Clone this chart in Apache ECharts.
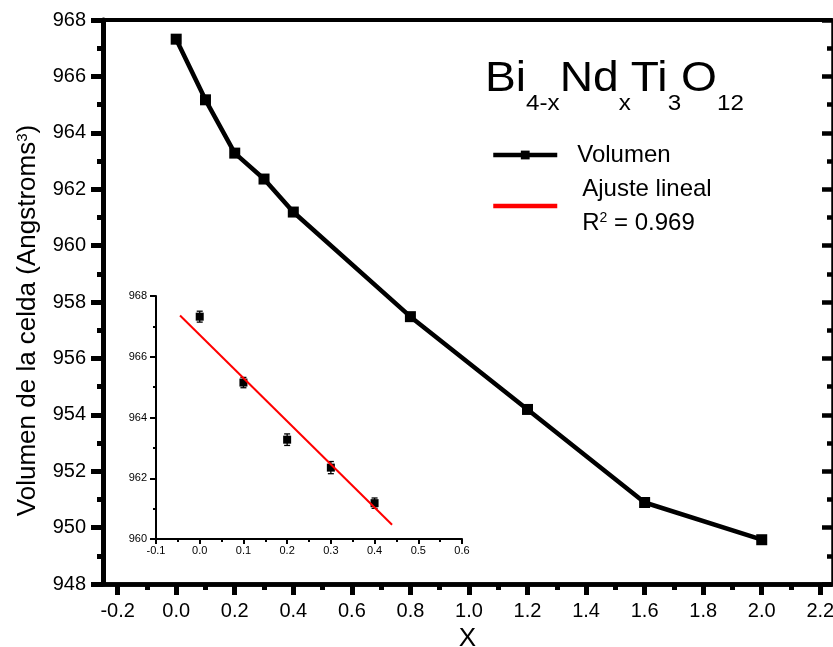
<!DOCTYPE html>
<html>
<head>
<meta charset="utf-8">
<script src="https://cdn.jsdelivr.net/npm/echarts@6/dist/echarts.min.js"></script>
<style>
html, body { margin: 0; padding: 0; background: #fff; }
#chart { width: 833px; height: 647px; }
</style>
</head>
<body>
<div id="chart"></div>
<script>
// datos principales: volumen de la celda contra x
var xVals = [0.0, 0.1, 0.2, 0.3, 0.4, 0.8, 1.2, 1.6, 2.0];
var volumen = [967.32, 965.17, 963.28, 962.36, 961.19, 957.48, 954.19, 950.89, 949.57];

// recuadro: primeros puntos con barras de error
var insetX = [0.0, 0.1, 0.2, 0.3, 0.4];
var insetY = [967.32, 965.15, 963.27, 962.35, 961.18];
var insetErr = [0.18, 0.17, 0.19, 0.2, 0.17];

// recta del ajuste lineal (extremos)
var fitX = [-0.045, 0.44];
var fitY = [967.36, 960.47];

// marcas del eje x principal
var xMajorTicks = [-0.2, 0.0, 0.2, 0.4, 0.6, 0.8, 1.0, 1.2, 1.4, 1.6, 1.8, 2.0, 2.2];
var xMinorTicks = [-0.1, 0.1, 0.3, 0.5, 0.7, 0.9, 1.1, 1.3, 1.5, 1.7, 1.9, 2.1];

var FONT = 'Arial, "Liberation Sans", sans-serif';

function pairs(xs, ys) {
	var out = [];
	for (var i = 0; i < xs.length; i++) {
		out.push([xs[i], ys[i]]);
	}
	return out;
}

var errData = [];
for (var i = 0; i < insetX.length; i++) {
	errData.push([insetX[i], insetY[i], insetErr[i]]);
}

function tick(w) {
	return { color: '#000', width: w };
}

var chart = echarts.init(document.getElementById('chart'));

var option = {
	animation: false,
	backgroundColor: '#fff',
	textStyle: { fontFamily: FONT, color: '#000' },
	grid: [
		{ left: 103, top: 20, right: 1, bottom: 63, containLabel: false, outerBoundsMode: 'none' },
		{ left: 156, top: 296, width: 306, height: 243, containLabel: false, outerBoundsMode: 'none' }
	],
	legend: {
		orient: 'vertical',
		left: 491,
		top: 138,
		padding: 0,
		itemGap: 0,
		itemWidth: 64,
		itemHeight: 11,
		data: [
			{ name: 'Volumen', lineStyle: { width: 4.5 }, textStyle: { padding: [0, 0, 0, 15] } },
			{ name: 'Ajuste lineal', lineStyle: { width: 4.5 }, itemStyle: { opacity: 0 }, textStyle: { padding: [0, 0, 0, 20] } }
		],
		formatter: function(name) {
			if (name === 'Ajuste lineal') {
				return 'Ajuste lineal\nR{sup|2} = 0.969';
			}
			return name;
		},
		textStyle: {
			fontFamily: FONT,
			fontSize: 24,
			lineHeight: 34,
			color: '#000',
			rich: {
				sup: { fontSize: 14, fontFamily: FONT, color: '#000', padding: [0, 0, 10, 0] }
			}
		}
	},
	xAxis: [
		{ // eje inferior, marcas mayores
			type: 'value', gridIndex: 0, min: -0.25, max: 2.24,
			name: 'X', nameLocation: 'middle', nameGap: 33,
			nameTextStyle: { fontSize: 26, color: '#000', fontFamily: FONT },
			axisLine: { onZero: false, lineStyle: { color: '#000', width: 4.5 } },
			axisTick: { show: true, length: 11, customValues: xMajorTicks, lineStyle: tick(5) },
			axisLabel: {
				customValues: xMajorTicks, margin: 17, fontSize: 20, color: '#000', fontFamily: FONT,
				formatter: function(v) { return v.toFixed(1); }
			},
			splitLine: { show: false }
		},
		{ // eje inferior, marcas menores
			type: 'value', gridIndex: 0, position: 'bottom', min: -0.25, max: 2.24,
			axisLine: { show: true, onZero: false, lineStyle: { color: '#000', width: 4.5 } },
			axisTick: { show: true, length: 6, customValues: xMinorTicks, lineStyle: tick(5) },
			axisLabel: { show: false },
			splitLine: { show: false }
		},
		{ // borde superior
			type: 'value', gridIndex: 0, position: 'top', min: -0.25, max: 2.24,
			axisLine: { onZero: false, lineStyle: { color: '#000', width: 4 } },
			axisTick: { show: false },
			axisLabel: { show: false },
			splitLine: { show: false }
		},
		{ // recuadro
			type: 'value', gridIndex: 1, min: -0.1, max: 0.6, interval: 0.1,
			axisLine: { onZero: false, lineStyle: { color: '#000', width: 2 } },
			axisTick: { show: true, length: 5, lineStyle: tick(2) },
			minorTick: { show: true, splitNumber: 2, length: 3, lineStyle: tick(2) },
			axisLabel: {
				margin: 6, fontSize: 11, color: '#000', fontFamily: FONT,
				formatter: function(v) { return v.toFixed(1); }
			},
			splitLine: { show: false }
		}
	],
	yAxis: [
		{ // eje izquierdo
			type: 'value', gridIndex: 0, min: 948, max: 968, interval: 2,
			name: 'Volumen de la celda (Angstroms{sup|3})',
			nameLocation: 'middle', nameRotate: 90, nameGap: 62,
			nameTextStyle: {
				fontSize: 26, color: '#000', fontFamily: FONT, padding: [0, 37, 0, 0],
				rich: { sup: { fontSize: 15, fontFamily: FONT, color: '#000', padding: [0, 0, 11, 0] } }
			},
			axisLine: { show: true, onZero: false, lineStyle: { color: '#000', width: 5 } },
			axisTick: { show: true, length: 12, lineStyle: tick(5) },
			minorTick: { show: true, splitNumber: 2, length: 6, lineStyle: tick(5) },
			axisLabel: { margin: 17, fontSize: 20, color: '#000', fontFamily: FONT },
			splitLine: { show: false }
		},
		{ // borde derecho
			type: 'value', gridIndex: 0, position: 'right', min: 948, max: 968, interval: 2,
			axisLine: { show: true, onZero: false, lineStyle: { color: '#000', width: 2.5 } },
			axisTick: { show: true, inside: true, length: 10, lineStyle: tick(4.5) },
			minorTick: { show: true, splitNumber: 2, length: 5, lineStyle: tick(4.5) },
			axisLabel: { show: false },
			splitLine: { show: false }
		},
		{ // recuadro
			type: 'value', gridIndex: 1, min: 960, max: 968, interval: 2,
			axisLine: { show: true, onZero: false, lineStyle: { color: '#000', width: 2 } },
			axisTick: { show: true, length: 6, lineStyle: tick(2) },
			minorTick: { show: true, splitNumber: 2, length: 3, lineStyle: tick(2) },
			axisLabel: { margin: 9, fontSize: 11, color: '#000', fontFamily: FONT },
			splitLine: { show: false }
		}
	],
	graphic: [
		{
			type: 'text',
			x: 485,
			y: 44,
			scaleX: 1.1,
			style: {
				text: '{m|Bi}{s|4-x}{m|Nd}{s|x}{m|Ti}{s|3}{m|O}{s|12}',
				verticalAlign: 'top',
				align: 'left',
				fill: '#000',
				rich: {
					m: { fontSize: 42, fontFamily: FONT, fill: '#000' },
					s: { fontSize: 22, fontFamily: FONT, fill: '#000', padding: [49, 0, 0, 0] }
				}
			}
		}
	],
	series: [
		{
			name: 'Volumen',
			type: 'line',
			xAxisIndex: 0,
			yAxisIndex: 0,
			data: pairs(xVals, volumen),
			symbol: 'rect',
			symbolSize: 11,
			lineStyle: { color: '#000', width: 4.5 },
			itemStyle: { color: '#000' },
			z: 5
		},
		{
			name: 'errores',
			type: 'custom',
			xAxisIndex: 3,
			yAxisIndex: 2,
			data: errData,
			encode: { x: 0, y: 1 },
			renderItem: function(params, api) {
				var x = api.value(0), y = api.value(1), e = api.value(2);
				var hi = api.coord([x, y + e]);
				var lo = api.coord([x, y - e]);
				var w = 3;
				var st = { stroke: '#000', lineWidth: 1.3 };
				return {
					type: 'group',
					children: [
						{ type: 'line', shape: { x1: hi[0], y1: hi[1], x2: lo[0], y2: lo[1] }, style: st },
						{ type: 'line', shape: { x1: hi[0] - w, y1: hi[1], x2: hi[0] + w, y2: hi[1] }, style: st },
						{ type: 'line', shape: { x1: lo[0] - w, y1: lo[1], x2: lo[0] + w, y2: lo[1] }, style: st }
					]
				};
			}
		},
		{
			name: 'puntos',
			type: 'scatter',
			xAxisIndex: 3,
			yAxisIndex: 2,
			data: pairs(insetX, insetY),
			symbol: 'rect',
			symbolSize: 8,
			itemStyle: { color: '#000', opacity: 1 }
		},
		{
			name: 'Ajuste lineal',
			type: 'line',
			xAxisIndex: 3,
			yAxisIndex: 2,
			data: pairs(fitX, fitY),
			symbol: 'none',
			lineStyle: { color: '#ff0000', width: 2 },
			itemStyle: { color: '#ff0000' },
			z: 4
		}
	]
};

chart.setOption(option);
</script>
</body>
</html>
